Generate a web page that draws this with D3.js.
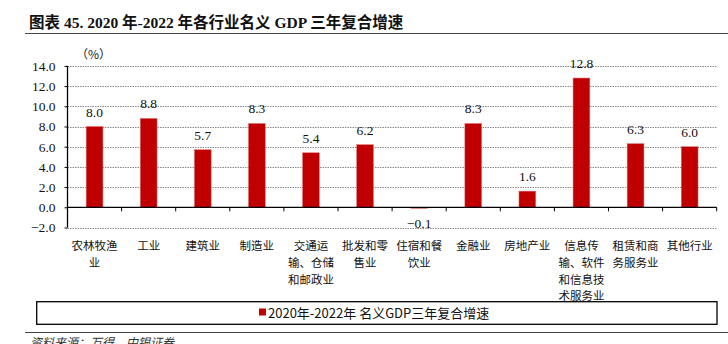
<!DOCTYPE html>
<html>
<head>
<meta charset="utf-8">
<script src="https://cdn.jsdelivr.net/npm/d3@7"></script>
<style>
  html, body { margin: 0; padding: 0; background: #fff; }
  svg { display: block; }
</style>
</head>
<body>
<svg id="chart" width="728" height="344"></svg>
<script>
// ---- data ----
const categories = [
  "农林牧渔\n业", "工业", "建筑业", "制造业", "交通运\n输、仓储\n和邮政业",
  "批发和零\n售业", "住宿和餐\n饮业", "金融业", "房地产业",
  "信息传\n输、软件\n和信息技\n术服务业", "租赁和商\n务服务业", "其他行业"
];
const values = [8.0, 8.8, 5.7, 8.3, 5.4, 6.2, -0.1, 8.3, 1.6, 12.8, 6.3, 6.0];
const yTicks = [-2, 0, 2, 4, 6, 8, 10, 12, 14];
const seriesName = "2020年-2022年 名义GDP三年复合增速";
const titleText = "图表 45. 2020 年-2022 年各行业名义 GDP 三年复合增速";
const sourceText = "资料来源：万得，中银证券";
const unitText = "（%）";

(function () {
// ---- layout ----
const svg = d3.select("#chart");
const pL = 67.5, pR = 716.7, pT = 65.9, pB = 227.5;
const RED = "#C00000";
const serif = "'Liberation Serif', 'Times New Roman', 'Noto Sans CJK SC', serif";

const x = d3.scaleBand().domain(d3.range(categories.length)).range([pL, pR]).padding(0);
const y = d3.scaleLinear().domain([-2, 14]).range([pB, pT]);

// title
svg.append("text")
  .attr("x", 29).attr("y", 28)
  .attr("font-family", "'Liberation Serif', 'Noto Sans CJK SC', serif")
  .attr("font-weight", "bold").attr("font-size", 15.5)
  .attr("fill", "#111")
  .text(titleText);
svg.append("line").attr("x1", 25).attr("x2", 728).attr("y1", 33.5).attr("y2", 33.5)
  .attr("stroke", "#444").attr("stroke-width", 1);

// unit
svg.append("text").attr("x", 76).attr("y", 59)
  .attr("font-family", "'Noto Sans CJK SC', sans-serif").attr("font-size", 12)
  .attr("fill", "#222").text(unitText);

// grid lines
svg.append("g").selectAll("line").data(yTicks.filter(d => d !== 0)).join("line")
  .attr("x1", pL).attr("x2", pR)
  .attr("y1", d => Math.round(y(d)) + 0.5).attr("y2", d => Math.round(y(d)) + 0.5)
  .attr("stroke", "#8a8a8a").attr("stroke-width", 1).attr("stroke-dasharray", "1.5,1");

// y axis
const yAxis = d3.axisLeft(y).tickValues(yTicks).tickFormat(d3.format(".1f")).tickSize(3).tickPadding(9);
const gy = svg.append("g").attr("transform", `translate(${pL},0)`).call(yAxis);
gy.select(".domain").remove();
gy.append("line").attr("x1", 0).attr("x2", 0).attr("y1", y(14)).attr("y2", y(-2))
  .attr("stroke", "#000").attr("stroke-width", 1.3);
gy.selectAll(".tick line").attr("stroke", "#000");
gy.selectAll(".tick text").attr("font-family", serif).attr("font-size", 13.5).attr("fill", "#111");

// bars
const bw = x.bandwidth() * 0.31;
svg.append("g").selectAll("rect").data(values).join("rect")
  .attr("x", (d, i) => x(i) + x.bandwidth() / 2 - bw / 2)
  .attr("width", bw)
  .attr("y", d => y(Math.max(0, d)))
  .attr("height", d => Math.max(Math.abs(y(d) - y(0)), 1))
  .attr("fill", RED)
  .attr("stroke", "#e07070").attr("stroke-width", 0.5);

// zero axis line with ticks at band boundaries
const zy = y(0);
svg.append("line").attr("x1", pL).attr("x2", pR).attr("y1", zy).attr("y2", zy)
  .attr("stroke", "#000").attr("stroke-width", 1.3);
const boundaries = d3.range(1, categories.length + 1).map(i => pL + i * x.step());
svg.append("g").selectAll("line").data(boundaries).join("line")
  .attr("x1", d => d).attr("x2", d => d).attr("y1", zy).attr("y2", zy + 4)
  .attr("stroke", "#000").attr("stroke-width", 1);

// value labels
svg.append("g").selectAll("text").data(values).join("text")
  .attr("x", (d, i) => x(i) + x.bandwidth() / 2)
  .attr("y", d => d >= 0 ? y(d) - 10 : y(d) + 20)
  .attr("text-anchor", "middle")
  .attr("font-family", serif).attr("font-size", 13.5).attr("fill", "#111")
  .text(d => d3.format(".1f")(d));

// category labels
const catG = svg.append("g");
categories.forEach((c, i) => {
  const t = catG.append("text")
    .attr("text-anchor", "middle")
    .attr("font-family", "'Noto Sans CJK SC', sans-serif").attr("font-size", 11.5)
    .attr("fill", "#111");
  c.split("\n").forEach((line, j) => {
    t.append("tspan").attr("x", x(i) + x.bandwidth() / 2).attr("y", 250 + j * 16.8).text(line);
  });
});

// legend
svg.append("rect").attr("x", 36.7).attr("y", 301.7).attr("width", 717 - 36.7).attr("height", 22.6)
  .attr("fill", "none").attr("stroke", "#000").attr("stroke-width", 1.3);
const lg = svg.append("g");
lg.append("text").attr("x", 268).attr("y", 317.5)
  .attr("font-family", "'Noto Sans CJK SC', sans-serif").attr("font-size", 13)
  .attr("fill", "#111").text(seriesName);
lg.append("rect").attr("x", 259).attr("y", 308.5).attr("width", 7).attr("height", 7).attr("fill", RED);

// source
svg.append("line").attr("x1", 25).attr("x2", 728).attr("y1", 332.5).attr("y2", 332.5)
  .attr("stroke", "#444").attr("stroke-width", 1);
svg.append("text").attr("x", 30).attr("y", 347)
  .attr("font-family", "'Noto Sans CJK SC', sans-serif").attr("font-size", 12)
  .attr("font-style", "italic").attr("fill", "#333").text(sourceText);
})();
</script>
</body>
</html>
